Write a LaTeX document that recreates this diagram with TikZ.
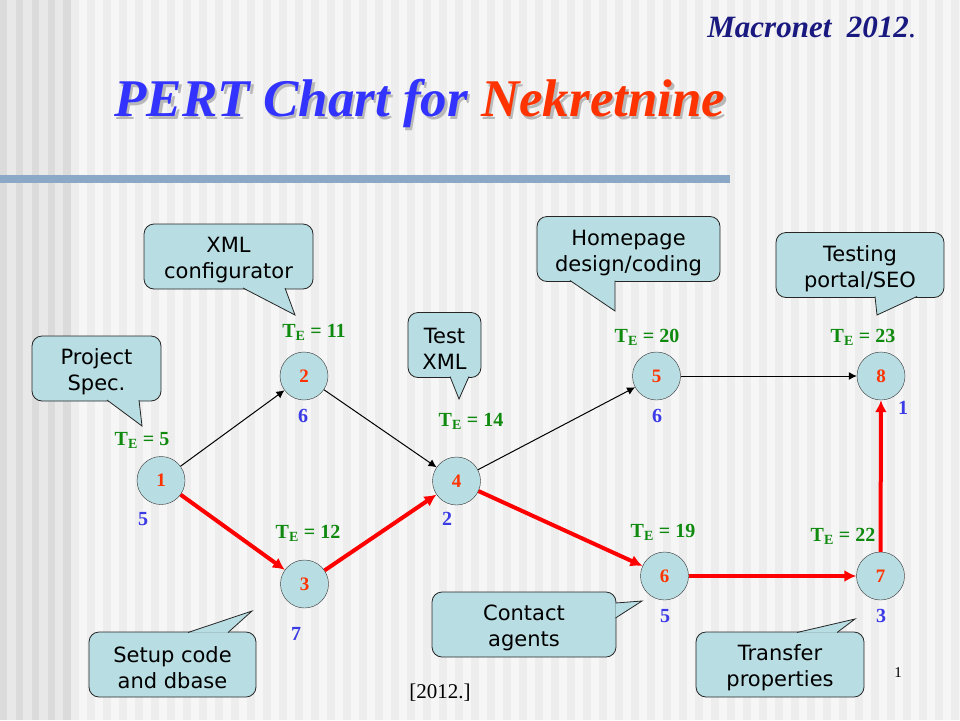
\documentclass[tikz,border=0pt]{standalone}
\usepackage{fontspec}
\setmainfont{Liberation Serif}
\newfontfamily\calloutfont{DejaVu Sans}
\usepackage{xcolor}
\usepackage{tikz}
\usetikzlibrary{arrows.meta}
\definecolor{calloutcyan}{HTML}{B8DDE2}
\definecolor{titleblue}{HTML}{3333FF}
\definecolor{titlered}{HTML}{FF3300}
\definecolor{numblue}{HTML}{3A3AE6}
\definecolor{tegreen}{HTML}{0F8A0F}
\definecolor{barblue}{HTML}{8BA9C7}
\newcommand{\te}[1]{T\textsubscript{E} = #1}
\newcommand{\topgap}{\rule{0pt}{23pt}}
\newcommand{\shadowed}[1]{\rlap{\kern2.5pt\raisebox{-2.5pt}{\textcolor{black!28}{#1}}}}
\tikzset{
	event/.style={circle,draw=black!80,fill=calloutcyan,minimum size=48,inner sep=0,font=\fontsize{19}{21}\selectfont\bfseries,text=titlered},
	calloutbox/.style={draw=black!85,fill=calloutcyan,line width=.8},
	calloutnode/.style={calloutbox,rounded corners=10,minimum width=#1,minimum height=65,inner sep=0,align=center,font=\calloutfont\fontsize{21}{26}\selectfont},
	telabel/.style={text=tegreen,font=\fontsize{20}{22}\selectfont\bfseries},
	slack/.style={text=numblue,font=\fontsize{20}{22}\selectfont\bfseries},
	thinedge/.style={-{Latex[length=8,width=8]},line width=1},
	critical/.style={-{Latex[length=12,width=12]},red,line width=4},
}
\begin{document}
\begin{tikzpicture}[x=1pt,y=-1pt]
				\useasboundingbox (0,0) rectangle (960,720);
				\fill[white!96.5!black] (0,0) rectangle (960,720);
				\foreach \x in {0,16,...,944} \fill[white!93!black] (\x+7,0) rectangle (\x+15,720);
				\fill[white!91!black] (0,0) rectangle (71,720);
				\foreach \x in {0,16,32,48} \fill[white!86!black] (\x,0) rectangle (\x+7,720);
				\fill[white!86!black] (63,0) rectangle (71,720);
				\fill[barblue] (0,175) rectangle (730,183);
				\draw (812,27) node[text=titleblue!50!black,font=\fontsize{31}{33}\selectfont\bfseries\itshape] (credit) {Macronet\ \ 2012\textmd{.}};
				\draw (420,105) node[text=titleblue,font=\fontsize{53}{55}\selectfont\bfseries\itshape] (title) {\shadowed{PERT Chart for Nekretnine}PERT Chart for \textcolor{titlered}{Nekretnine}};
				\draw (440,693) node[font=\fontsize{21}{23}\selectfont] (year) {[2012.]};
				\draw (898,673) node[font=\fontsize{15}{17}\selectfont] (page) {1};
				\draw (161,480.5) node[event] (n1) {1};
				\draw (304,376) node[event] (n2) {2};
				\draw (304.5,584) node[event] (n3) {3};
				\draw (456.5,481) node[event] (n4) {4};
				\draw (656.5,376) node[event] (n5) {5};
				\draw (664.5,576) node[event] (n6) {6};
				\draw (880.5,576) node[event] (n7) {7};
				\draw (881,376) node[event] (n8) {8};
				\draw[thinedge] (n1) -- (n2);
				\draw[thinedge] (n2) -- (n4);
				\draw[thinedge] (n4) -- (n5);
				\draw[thinedge] (n5) -- (n8);
				\draw[critical] (n1) -- (n3);
				\draw[critical] (n3) -- (n4);
				\draw[critical] (n4) -- (n6);
				\draw[critical] (n6) -- (n7);
				\draw[critical] (n7) -- (n8);
				\draw (142,440) node[telabel] (te1) {\te{5}};
				\draw (314,332) node[telabel] (te2) {\te{11}};
				\draw (308,533) node[telabel] (te3) {\te{12}};
				\draw (471,421) node[telabel] (te4) {\te{14}};
				\draw (647,337) node[telabel] (te5) {\te{20}};
				\draw (663,532) node[telabel] (te6) {\te{19}};
				\draw (843,536) node[telabel] (te7) {\te{22}};
				\draw (863,337) node[telabel] (te8) {\te{23}};
				\draw (143,519) node[slack] (s1) {5};
				\draw (303,416) node[slack] (s2) {6};
				\draw (296,634) node[slack] (s3) {7};
				\draw (447,519) node[slack] (s4) {2};
				\draw (657,416) node[slack] (s5) {6};
				\draw (665,616) node[slack] (s6) {5};
				\draw (881,616) node[slack] (s7) {3};
				\draw (903,408) node[slack] (s8) {1};
				\draw (96.5,368.5) node[calloutnode=129] (spec) {\topgap Project\\Spec.};
				\draw[calloutbox] (107,400) -- (142,426) -- (139,400);
				\draw (228.5,256.5) node[calloutnode=169] (xml) {\topgap XML\\configurator};
				\draw[calloutbox] (243,288) -- (295,315) -- (285,288);
				\draw (444.5,345) node[calloutnode=73] (testxml) {\topgap Test\\XML};
				\draw[calloutbox] (450,376.5) -- (459,399) -- (469,376.5);
				\draw (628.5,249) node[calloutnode=183] (homepage) {\topgap Homepage\\design/coding};
				\draw[calloutbox] (570,280.5) -- (615,311) -- (615,280.5);
				\draw (860,265) node[calloutnode=168] (seo) {\topgap Testing\\portal/SEO};
				\draw[calloutbox] (875,296.5) -- (877,315) -- (917,296.5);
				\draw (524,624.5) node[calloutnode=184] (agents) {\topgap Contact\\agents};
				\draw[calloutbox] (615.5,603) -- (642,601) -- (615.5,618);
				\draw (172.5,664.5) node[calloutnode=167] (dbase) {\topgap Setup code\\and dbase};
				\draw[calloutbox] (188,632.5) -- (252,611) -- (228,632.5);
				\draw (780,664.5) node[calloutnode=168] (transfer) {\topgap Transfer\\properties};
				\draw[calloutbox] (797,632.5) -- (855,619) -- (837,632.5);
		\end{tikzpicture}
\end{document}
